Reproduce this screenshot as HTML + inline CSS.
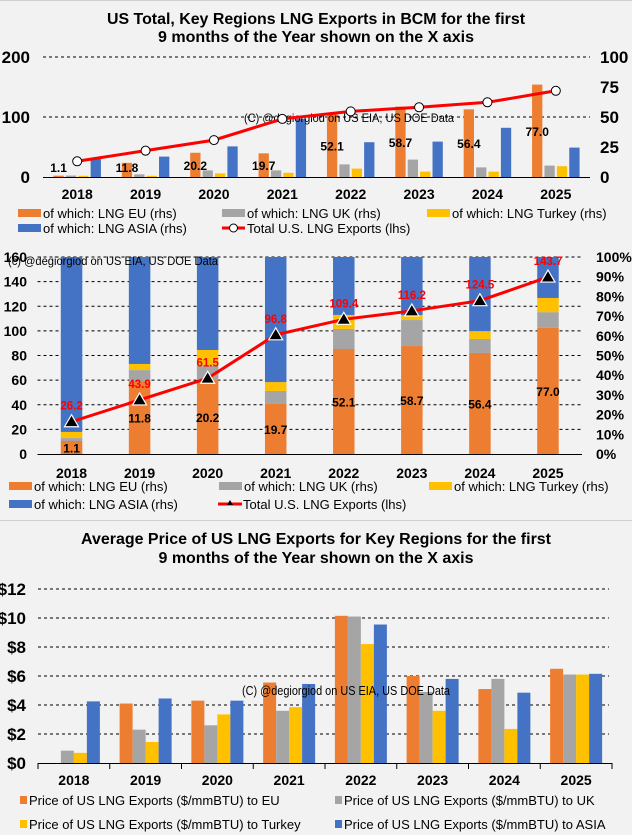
<!DOCTYPE html>
<html><head><meta charset="utf-8">
<style>
html,body{margin:0;padding:0;background:#f2f2f2;}
svg{display:block;font-family:"Liberation Sans",Arial,sans-serif;}
</style></head>
<body>
<svg id="s" width="632" height="835" viewBox="0 0 632 835" xmlns="http://www.w3.org/2000/svg">
<rect x="0" y="0" width="632" height="835" fill="#f2f2f2"/>
<line x1="0" y1="0.5" x2="632" y2="0.5" stroke="#d0d0d0"/>
<line x1="0" y1="520.5" x2="632" y2="520.5" stroke="#d0d0d0"/>
<text x="316" y="24" text-anchor="middle" font-size="16" font-weight="bold" textLength="418" lengthAdjust="spacingAndGlyphs">US Total, Key Regions LNG Exports in BCM for the first</text>
<text x="316" y="42" text-anchor="middle" font-size="16" font-weight="bold" textLength="316" lengthAdjust="spacingAndGlyphs">9 months of the Year shown on the X axis</text>
<text x="316" y="544" text-anchor="middle" font-size="16" font-weight="bold" textLength="470" lengthAdjust="spacingAndGlyphs">Average Price of US LNG Exports for Key Regions for the first</text>
<text x="316" y="563" text-anchor="middle" font-size="16" font-weight="bold" textLength="315" lengthAdjust="spacingAndGlyphs">9 months of the Year shown on the X axis</text>
<g id="g1"></g><g id="g2"></g><g id="g3"></g>
</svg>
<script>
const years=["2018","2019","2020","2021","2022","2023","2024","2025"];
const euBcm=[1.1,11.8,20.2,19.7,52.1,58.7,56.4,77.0];
const ukBcm=[1.2,2.2,5.5,5.5,10.5,14.5,8,9.5];
const trBcm=[1.0,1.0,3.0,3.5,7.0,4.5,4.5,9.0];
const asiaBcm=[15,17,25.5,48.5,29,29.5,41,24.5];
const totalBcm=[26.2,43.9,61.5,96.8,109.4,116.2,124.5,143.7];
const euPct=[6.6,37,37.6,25.4,53.3,54.8,51.3,64];
const ukPct=[1.5,5.6,7.1,6.6,10.2,13.2,7.1,8];
const trPct=[3.1,3.1,8.1,4.5,7.1,2.5,4,7.2];
const asiaPct=[90,60,50,65,30,30,40,25];
const leftTicks1=[0,100,200];
const rightTicks1=[0,25,50,75,100];
const leftTicks2=[0,20,40,60,80,100,120,140,160];
const rightTicks2=[0,10,20,30,40,50,60,70,80,90,100];
const priceEU=[0,4.1,4.3,5.55,10.15,6.0,5.1,6.5];
const priceUK=[0.85,2.3,2.6,3.6,10.1,4.9,5.8,6.1];
const priceTR=[0.7,1.45,3.35,3.85,8.2,3.6,2.35,6.1];
const priceAsia=[4.25,4.45,4.3,5.45,9.55,5.8,4.85,6.15];
const priceTicks=[0,2,4,6,8,10,12];

const NS="http://www.w3.org/2000/svg";
const C={eu:"#ed7d31",uk:"#a5a5a5",tr:"#ffc000",asia:"#4472c4",red:"#ff0000"};
function mk(p,t,a,txt){const e=document.createElementNS(NS,t);for(const k in a)e.setAttribute(k,a[k]);if(txt!==undefined)e.textContent=txt;p.appendChild(e);return e;}

// ===== Chart 1 =====
(function(){
const g=document.getElementById('g1');
const x0=43,x1=590,cw=(x1-x0)/8,yb=177;
const yL=v=>yb-v*(120/200), yR=v=>yb-v*(120/100);
leftTicks1.forEach(v=>{
 if(v>0){const l=mk(g,'line',{x1:x0,x2:x1,y1:yL(v),y2:yL(v),stroke:'#000','stroke-dasharray':'3,3','stroke-width':1});
 }
 const t=mk(g,'text',{x:30,y:yL(v)+6,'text-anchor':'end','font-size':17,'font-weight':'bold'},String(v));
 
});
rightTicks1.forEach(v=>{const t=mk(g,'text',{x:600,y:yR(v)+6,'font-size':17,'font-weight':'bold'},String(v));
 });
const series=[[euBcm,C.eu,'eu'],[ukBcm,C.uk,'uk'],[trBcm,C.tr,'turkey'],[asiaBcm,C.asia,'asia']];
const bw=10.3,sp=12.4;
years.forEach((yr,i)=>{
 const cx=x0+cw*(i+0.5);
 series.forEach((s,j)=>{
  const bx=cx-2*sp+j*sp+(sp-bw)/2; const v=s[0][i];
  const r=mk(g,'rect',{x:bx,y:yR(v),width:bw,height:yb-yR(v),fill:s[1]});
  
 });
 const lab=mk(g,'text',{x:cx-2*sp+sp/2,y:Math.min(yb-euBcm[i]*1.2/2,167)+5,'text-anchor':'middle','font-size':12,'font-weight':'bold'},euBcm[i].toFixed(1));
 
 const xl=mk(g,'text',{x:cx,y:199,'text-anchor':'middle','font-size':14,'font-weight':'bold'},yr);
 
});
const ax=mk(g,'line',{x1:x0,x2:x1,y1:yb+0.5,y2:yb+0.5,stroke:'#000'});

const wm=mk(g,'text',{x:244,y:122,'font-size':12,textLength:210,lengthAdjust:'spacingAndGlyphs'},'(C) @degiorgiod on US EIA, US DOE Data');

const pts=totalBcm.map((v,i)=>(x0+cw*(i+0.5))+','+yL(v)).join(' ');
const pl=mk(g,'polyline',{points:pts,fill:'none',stroke:C.red,'stroke-width':3});

totalBcm.forEach((v,i)=>{const c=mk(g,'circle',{cx:x0+cw*(i+0.5),cy:yL(v),r:4.5,fill:'#fff',stroke:'#000','stroke-width':1});
 });
const leg=[[18,213,C.eu,'of which: LNG EU (rhs)','legend-eu'],[222,213,C.uk,'of which: LNG UK (rhs)','legend-uk'],[427,213,C.tr,'of which: LNG Turkey (rhs)','legend-turkey'],[18,228,C.asia,'of which: LNG ASIA (rhs)','legend-asia']];
leg.forEach(l=>{const gg=mk(g,'g',{});
 mk(gg,'rect',{x:l[0],y:l[1]-4,width:23,height:8,fill:l[2]});mk(gg,'text',{x:l[0]+25,y:l[1]+5,'font-size':13},l[3]);});
const lg=mk(g,'g',{});
mk(lg,'line',{x1:222,x2:245,y1:228,y2:228,stroke:C.red,'stroke-width':3});
mk(lg,'circle',{cx:233.5,cy:228,r:4,fill:'#fff',stroke:'#000'});
mk(lg,'text',{x:247,y:233,'font-size':13},'Total U.S. LNG Exports (lhs)');
})();

// ===== Chart 2 =====
(function(){
const g=document.getElementById('g2');
const x0=37.5,x1=582,cw=(x1-x0)/8,yb=454,yt=257,h=yb-yt;
const yL=v=>yb-v*h/160, yR=v=>yb-v*h/100;
leftTicks2.forEach(v=>{
 if(v>0){const l=mk(g,'line',{x1:x0,x2:x1,y1:yL(v),y2:yL(v),stroke:'#000','stroke-dasharray':'3,3'});
 }
 const t=mk(g,'text',{x:27,y:yL(v)+5,'text-anchor':'end','font-size':14,'font-weight':'bold'},String(v));
 
});
rightTicks2.forEach(v=>{const t=mk(g,'text',{x:596,y:yR(v)+5,'font-size':14,'font-weight':'bold'},v+'%');
 });
const series=[[euPct,C.eu,'eu'],[ukPct,C.uk,'uk'],[trPct,C.tr,'turkey'],[asiaPct,C.asia,'asia']];
years.forEach((yr,i)=>{
 const cx=x0+cw*(i+0.5);let cum=0;
 series.forEach(s=>{const a=cum,b=Math.min(100,cum+s[0][i]);cum=b;
  const r=mk(g,'rect',{x:cx-10.75,y:yR(b),width:21.5,height:yR(a)-yR(b),fill:s[1]});
  });
 const lab=mk(g,'text',{x:cx,y:(yb+yR(euPct[i]))/2+5,'text-anchor':'middle','font-size':12,'font-weight':'bold'},euBcm[i].toFixed(1));
 
 const xl=mk(g,'text',{x:cx,y:478,'text-anchor':'middle','font-size':14,'font-weight':'bold'},yr);
 
});
const ax=mk(g,'line',{x1:x0,x2:x1,y1:yb+0.5,y2:yb+0.5,stroke:'#000'});

const pts=totalBcm.map((v,i)=>(x0+cw*(i+0.5))+','+yL(v)).join(' ');
const pl=mk(g,'polyline',{points:pts,fill:'none',stroke:C.red,'stroke-width':3});

totalBcm.forEach((v,i)=>{const cx=x0+cw*(i+0.5),cy=yL(v);
 const p=mk(g,'polygon',{points:`${cx},${cy-7} ${cx-7},${cy+5} ${cx+7},${cy+5}`,fill:'#000',stroke:'#fff','stroke-width':1.2});
 
 const t=mk(g,'text',{x:cx,y:cy-12,'text-anchor':'middle','font-size':11.5,'font-weight':'bold',fill:C.red},v.toFixed(1));
 });
const wm=mk(g,'text',{x:8,y:265,'font-size':12,textLength:210,lengthAdjust:'spacingAndGlyphs'},'(c) @degiorgiod on US EIA, US DOE Data');

const leg=[[9,486,C.eu,'of which: LNG EU (rhs)','legend-eu'],[219,486,C.uk,'of which: LNG UK (rhs)','legend-uk'],[429,486,C.tr,'of which: LNG Turkey (rhs)','legend-turkey'],[9,504,C.asia,'of which: LNG ASIA (rhs)','legend-asia']];
leg.forEach(l=>{const gg=mk(g,'g',{});
 mk(gg,'rect',{x:l[0],y:l[1]-4,width:23,height:8,fill:l[2]});mk(gg,'text',{x:l[0]+25,y:l[1]+5,'font-size':13},l[3]);});
const lg=mk(g,'g',{});
mk(lg,'line',{x1:218,x2:242,y1:504,y2:504,stroke:C.red,'stroke-width':3});
mk(lg,'polygon',{points:'230,500 227,505 233,505',fill:'#000'});
mk(lg,'text',{x:243,y:509,'font-size':13},'Total U.S. LNG Exports (lhs)');
})();

// ===== Chart 3 =====
(function(){
const g=document.getElementById('g3');
const x0=38,x1=612,cw=(x1-x0)/8,yb=763,yt=589;
const y=v=>yb-v*(yb-yt)/12;
priceTicks.forEach(v=>{
 if(v>0){const l=mk(g,'line',{x1:x0,x2:x1-3,y1:y(v),y2:y(v),stroke:'#000','stroke-dasharray':'3,3'});
 }
 const t=mk(g,'text',{x:26,y:y(v)+6,'text-anchor':'end','font-size':17,'font-weight':'bold'},'$'+v);
 
});
const series=[[priceEU,C.eu,'eu'],[priceUK,C.uk,'uk'],[priceTR,C.tr,'turkey'],[priceAsia,C.asia,'asia']];
const bw=13;
years.forEach((yr,i)=>{
 const cx=x0+cw*(i+0.5);
 series.forEach((s,j)=>{const v=s[0][i];if(v<=0)return;
  const r=mk(g,'rect',{x:cx-2*bw+j*bw,y:y(v),width:bw,height:yb-y(v),fill:s[1]});
  });
 const xl=mk(g,'text',{x:cx,y:785,'text-anchor':'middle','font-size':14,'font-weight':'bold'},yr);
 
});
for(let i=0;i<=8;i++){const tx=x0+cw*i;const t=mk(g,'line',{x1:tx,x2:tx,y1:yb,y2:yb+6,stroke:'#000'});
 }
const ax=mk(g,'line',{x1:x0,x2:x1,y1:yb+0.5,y2:yb+0.5,stroke:'#000'});

const wm=mk(g,'text',{x:242,y:695,'font-size':13,textLength:208,lengthAdjust:'spacingAndGlyphs'},'(C) @degiorgiod on US EIA, US DOE Data');

const leg=[[20,800,C.eu,'Price of US LNG Exports ($/mmBTU) to EU','legend-eu'],[335,800,C.uk,'Price of US LNG Exports ($/mmBTU) to UK','legend-uk'],[20,824,C.tr,'Price of US LNG Exports ($/mmBTU) to Turkey','legend-turkey'],[335,824,C.asia,'Price of US LNG Exports ($/mmBTU) to ASIA','legend-asia']];
leg.forEach(l=>{const gg=mk(g,'g',{});
 mk(gg,'rect',{x:l[0],y:l[1]-4,width:7,height:8,fill:l[2]});mk(gg,'text',{x:l[0]+9,y:l[1]+5,'font-size':13},l[3]);});
})();
</script>
</body></html>
